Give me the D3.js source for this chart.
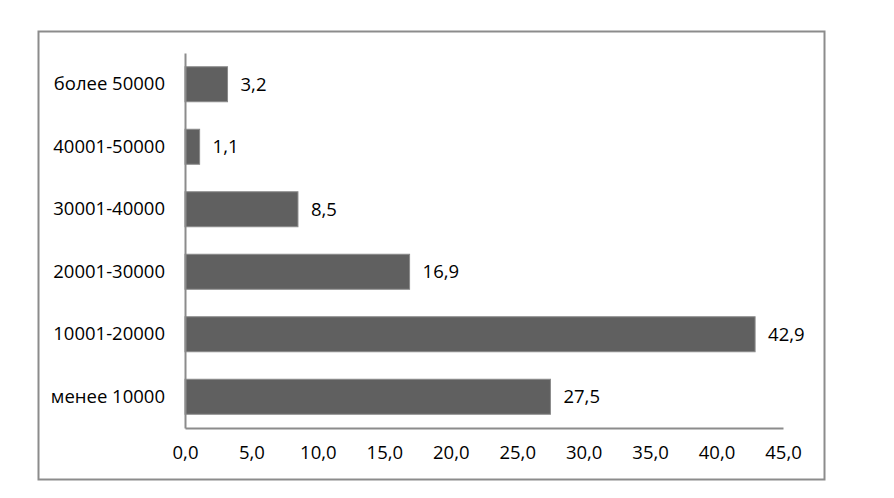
<!DOCTYPE html>
<html>
<head>
<meta charset="utf-8">
<script src="https://cdn.jsdelivr.net/npm/d3@7"></script>
<style>
  body { margin: 0; background: #fff; }
  text { font-family: "Open Sans", sans-serif; fill: #000; }
</style>
</head>
<body>
<div id="chart"></div>
<script>
// категории дохода, сверху вниз
var categories = ["более 50000", "40001-50000", "30001-40000", "20001-30000", "10001-20000", "менее 10000"];
var values = [3.2, 1.1, 8.5, 16.9, 42.9, 27.5];
var xTicks = [0, 5, 10, 15, 20, 25, 30, 35, 40, 45];

var W = 894, H = 498;
var margin = { top: 53, right: 111, bottom: 70, left: 185 },
    width = W - margin.left - margin.right,
    height = H - margin.top - margin.bottom;

var fmt = function (v) { return d3.format(".1f")(v).replace(".", ","); };

var svg = d3.select("#chart").append("svg")
    .attr("width", W)
    .attr("height", H);

// рамка
svg.append("rect")
    .attr("x", 38.5).attr("y", 31.5)
    .attr("width", 786).attr("height", 448)
    .attr("fill", "none")
    .attr("stroke", "#8c8c8c")
    .attr("stroke-width", 2);

var g = svg.append("g")
    .attr("transform", "translate(" + margin.left + "," + margin.top + ")");

var x = d3.scaleLinear().domain([0, 45]).range([0, width]);
var y = d3.scaleBand().domain(categories).range([0, height]).paddingInner(0.44).paddingOuter(0.22);

// столбцы
g.selectAll(".bar")
    .data(values)
    .enter().append("rect")
    .attr("class", "bar")
    .attr("x", x(0))
    .attr("y", function (d, i) { return y(categories[i]); })
    .attr("width", function (d) { return x(d) - x(0); })
    .attr("height", y.bandwidth())
    .attr("fill", "#606060")
    .attr("stroke", "#8a8a8a")
    .attr("stroke-width", 1);

// подписи значений
g.selectAll(".lbl")
    .data(values)
    .enter().append("text")
    .attr("class", "lbl")
    .attr("x", function (d) { return x(d) + 13; })
    .attr("y", function (d, i) { return y(categories[i]) + y.bandwidth() / 2; })
    .attr("dy", "0.35em")
    .style("font-size", "18.5px")
    .text(function (d) { return fmt(d); });

// ось X
var xAxis = g.append("g")
    .attr("transform", "translate(0," + height + ")")
    .call(d3.axisBottom(x).tickValues(xTicks).tickSize(0).tickPadding(18).tickFormat(fmt));
xAxis.select(".domain").attr("stroke", "#8c8c8c").attr("stroke-width", 2);
xAxis.selectAll("text").style("font-size", "18.5px");

// ось Y
var yAxis = g.append("g")
    .call(d3.axisLeft(y).tickSize(0).tickPadding(20));
yAxis.select(".domain").attr("stroke", "#8c8c8c").attr("stroke-width", 2);
yAxis.selectAll("text").style("font-size", "18.5px");
</script>
</body>
</html>
